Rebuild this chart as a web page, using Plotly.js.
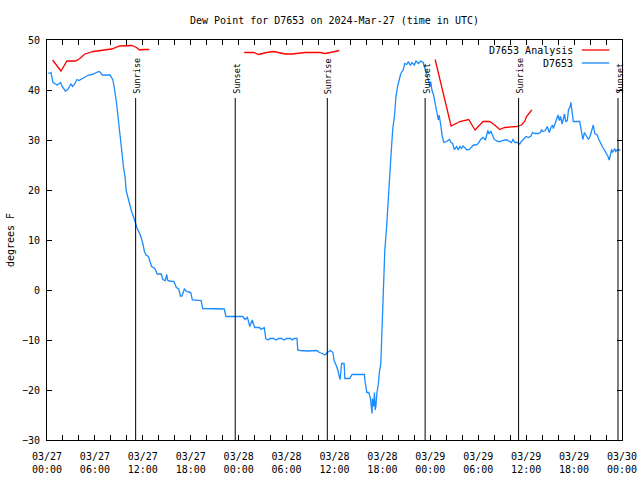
<!DOCTYPE html>
<html>
<head>
<meta charset="utf-8">
<script src="https://cdn.plot.ly/plotly-3.0.1.min.js"></script>
<style>html,body{margin:0;padding:0;background:#fff;}#chart{width:640px;height:480px;}</style>
</head>
<body>
<div id="chart"></div>
<script>
// Hours after 2024-03-27 00:00 UTC
const startDate = '2024-03-27';
const endDate = '2024-03-30';

const obsHours = [0.1,0.5,0.75,1.0,1.3,1.7,1.9,2.3,2.6,3.0,3.2,3.5,3.75,4.0,4.4,4.8,5.2,5.6,6.0,6.5,6.7,6.9,7.9,8.25,8.4,8.55,8.7,8.85,9.1,9.3,9.5,9.6,9.8,9.9,10.1,10.3,10.6,10.9,11.1,11.3,11.6,11.75,12.0,12.2,12.4,12.7,12.9,13.1,13.5,13.8,14.3,14.5,14.8,15.0,15.1,15.3,15.9,16.2,16.5,16.7,16.9,17.2,17.5,18.0,18.2,19.3,19.5,22.2,22.4,24.5,24.8,25.1,25.4,25.7,26.0,26.6,26.8,27.2,27.4,27.7,27.9,28.4,28.7,29.0,29.4,29.7,30.0,30.5,30.7,30.95,31.3,31.4,31.7,32.6,33.8,34.1,34.5,34.8,35.1,35.5,35.8,35.95,36.2,36.4,36.6,36.7,36.8,36.9,37.2,37.3,37.9,38.2,39.75,39.8,40.05,40.3,40.5,40.6,40.7,40.75,40.9,41.0,41.1,41.2,41.3,41.5,41.6,41.8,41.85,41.95,42.1,42.2,42.3,42.5,42.6,42.75,42.9,43.05,43.2,43.3,43.5,43.6,43.7,43.9,44.1,44.3,44.6,44.8,45.05,45.25,45.5,45.7,46.0,46.2,46.5,46.8,47.1,47.35,47.6,47.8,48.0,48.05,48.2,48.4,48.6,48.8,49.0,49.1,49.3,49.5,49.7,50.05,50.4,50.6,50.8,51.0,51.3,51.5,51.7,51.9,52.1,52.35,52.6,52.9,53.2,53.4,53.7,54.0,54.3,54.6,54.9,55.1,55.2,55.35,55.6,55.85,56.0,56.25,56.45,56.7,57.05,57.3,57.6,57.85,58.15,58.35,58.6,58.9,59.2,59.4,59.65,60.0,60.3,60.6,60.8,61.1,61.5,61.8,61.9,62.1,62.4,62.65,62.9,63.1,63.3,63.4,63.6,63.8,64.0,64.15,64.3,64.5,64.6,64.8,64.95,65.15,65.3,65.5,65.6,65.7,65.8,65.9,66.7,66.8,67.0,67.1,67.3,67.5,67.8,68.0,68.2,68.4,68.6,68.9,69.1,69.3,69.6,69.8,70.05,70.25,70.4,70.55,70.7,70.8,71.0,71.1,71.2,71.4,71.8];
const obsDew = [43.3,43.5,41.5,41.2,41.0,41.5,40.7,39.8,40.1,41.2,40.7,41.3,42.1,41.9,42.3,42.7,43.0,43.1,43.3,43.7,43.5,43.0,43.0,42.0,40.7,39.3,37.5,35.3,31.3,29.3,26.0,24.3,22.3,20.0,18.7,17.3,15.7,14.3,13.3,12.3,11.3,10.7,9.3,7.7,7.0,6.7,5.7,4.7,4.3,3.2,3.2,2.1,1.9,3.1,2.0,1.8,1.7,0.5,0.2,-1.2,-1.2,0.2,-0.3,-0.5,-2.0,-2.1,-3.7,-3.8,-5.3,-5.3,-5.9,-5.5,-7.3,-6.0,-7.5,-7.5,-7.9,-7.5,-9.7,-10.0,-9.7,-9.7,-10.0,-9.7,-9.7,-10.0,-9.7,-9.7,-10.0,-9.7,-9.7,-12.0,-12.1,-12.2,-12.1,-12.5,-12.7,-13.0,-12.5,-12.1,-12.5,-14.1,-15.0,-15.9,-17.3,-17.9,-16.3,-14.7,-14.7,-17.7,-17.7,-16.9,-16.9,-18.0,-20.5,-20.5,-21.7,-23.3,-24.7,-21.7,-23.3,-20.5,-24.0,-23.0,-20.7,-18.7,-16.7,-14.7,-12.0,-8.0,-3.0,2.3,8.0,12.0,14.3,17.7,20.7,26.3,30.0,32.3,34.7,36.7,38.7,40.7,42.0,43.3,44.0,45.3,45.1,45.7,44.9,45.5,45.0,45.8,45.3,45.8,45.5,44.3,42.7,41.7,40.7,41.7,40.0,39.0,37.0,35.7,34.0,35.0,33.0,30.7,29.5,29.7,30.1,29.5,29.3,28.1,28.7,28.0,28.7,28.3,28.8,28.3,28.0,28.1,28.7,29.0,29.0,29.3,30.1,30.5,30.0,31.0,31.9,31.3,31.7,30.7,30.1,29.9,29.7,29.7,29.9,30.0,30.0,29.7,29.5,30.1,29.5,29.5,29.2,29.7,30.1,30.7,30.5,30.8,31.5,31.3,31.3,31.5,32.0,31.7,31.9,32.7,31.5,32.5,33.0,32.3,33.2,34.1,35.0,33.9,34.7,33.2,33.9,35.2,33.7,33.9,36.0,36.7,37.5,36.3,34.5,33.7,33.7,32.7,31.3,30.1,31.5,31.0,30.1,30.7,31.7,33.0,31.3,31.0,30.1,29.3,28.5,28.0,27.3,26.7,26.0,27.3,28.1,27.5,28.0,28.3,27.7,28.0,28.0];

const anaHours = [0.7,1.75,2.5,3.6,4.1,4.75,5.8,7.0,8.1,9.1,10.6,11.2,11.6,12.1,12.8,null,24.7,25.9,26.5,26.9,27.5,28.4,29.2,29.8,30.7,31.3,32.3,34.2,34.8,35.5,36.1,36.6,null,48.6,50.6,51.1,51.7,52.8,53.6,54.6,55.4,55.9,56.7,57.3,58.8,59.4,59.8,60.05,60.7];
const anaDew = [46.0,43.8,45.8,45.8,46.3,47.2,47.7,47.9,48.2,48.8,48.9,48.5,48.0,48.1,48.1,null,47.5,47.5,47.1,47.3,47.5,47.7,47.5,47.2,47.2,47.3,47.5,47.5,47.3,47.5,47.7,47.9,null,46.1,32.8,33.2,33.7,34.1,32.0,33.7,33.7,33.2,32.1,32.5,32.7,33.0,33.7,34.7,36.0];

const sunHours = [11.1, 23.57, 35.1, 47.35, 59.05, 71.5];
const sunLabels = ['Sunrise','Sunset','Sunrise','Sunset','Sunrise','Sunset'];

const seriesNames = ['D7653 Analysis', 'D7653'];
const seriesColors = ['#ff0000', '#1a8cff'];

const base = Date.UTC(2024, 2, 27);
function toTime(h) {
  if (h === null) return null;
  return new Date(base + Math.round(h * 3600000)).toISOString().slice(0, 19).replace('T', ' ');
}

const FONT = 'DejaVu Sans Mono, monospace';

const traces = [
  {x: anaHours.map(toTime), y: anaDew, type: 'scatter', mode: 'lines', name: seriesNames[0],
   line: {color: seriesColors[0], width: 1.3}, connectgaps: false},
  {x: obsHours.map(toTime), y: obsDew, type: 'scatter', mode: 'lines', name: seriesNames[1],
   line: {color: seriesColors[1], width: 1.3}}
];

const shapes = sunHours.map(h => ({
  type: 'line', xref: 'x', yref: 'paper', x0: toTime(h), x1: toTime(h), y0: 0, y1: 0.855,
  line: {color: '#000', width: 1}
}));
const annotations = sunHours.map((h, i) => ({
  x: toTime(h), xref: 'x', y: 0.86, yref: 'paper', text: sunLabels[i], textangle: -90,
  showarrow: false, xanchor: 'center', yanchor: 'bottom', xshift: 1,
  font: {family: FONT, size: 8.5, color: '#000'}
}));

// legend (gnuplot style: text right-aligned, sample to the right)
const legY = [0.975, 0.9425];
seriesNames.forEach((n, i) => {
  annotations.push({x: 0.918, xref: 'paper', y: legY[i], yref: 'paper', text: n, showarrow: false,
    xanchor: 'right', yanchor: 'middle', font: {family: FONT, size: 10, color: '#000'}});
  shapes.push({type: 'line', xref: 'paper', yref: 'paper', x0: 0.93, x1: 0.978, y0: legY[i], y1: legY[i],
    line: {color: seriesColors[i], width: 1.3}});
});

const layout = {
  width: 640, height: 480,
  margin: {l: 47, r: 18, t: 40, b: 40},
  paper_bgcolor: '#fff', plot_bgcolor: '#fff',
  font: {family: FONT, size: 10, color: '#000'},
  showlegend: false,
  title: {text: 'Dew Point for D7653 on 2024-Mar-27 (time in UTC)', x: 0.5, xref: 'paper', xanchor: 'center',
          y: 0.958, yref: 'container', yanchor: 'middle', font: {family: FONT, size: 10, color: '#000'}},
  xaxis: {
    type: 'date', range: [startDate + ' 00:00', endDate + ' 00:00'],
    dtick: 6 * 3600000, tick0: startDate + ' 00:00', tickformat: '%m/%d<br>%H:%M',
    ticks: 'inside', ticklen: 5, tickcolor: '#000', tickwidth: 1,
    minor: {dtick: 2 * 3600000, ticks: 'inside', ticklen: 5, tickcolor: '#000', showgrid: false},
    showline: true, linecolor: '#000', linewidth: 1, mirror: 'allticks',
    showgrid: false, zeroline: false, fixedrange: true, ticklabelstandoff: 7,
    tickfont: {family: FONT, size: 10, color: '#000'}
  },
  yaxis: {
    range: [-30, 50], dtick: 10, tick0: 0,
    ticks: 'inside', ticklen: 5, tickcolor: '#000', tickwidth: 1,
    showline: true, linecolor: '#000', linewidth: 1, mirror: 'allticks',
    showgrid: false, zeroline: false, fixedrange: true, ticklabelstandoff: 4,
    title: {text: 'degrees F', standoff: 5, font: {family: FONT, size: 10, color: '#000'}},
    tickfont: {family: FONT, size: 10, color: '#000'}
  },
  shapes: shapes,
  annotations: annotations
};

Plotly.newPlot('chart', traces, layout, {staticPlot: true, displayModeBar: false});
</script>
</body>
</html>
